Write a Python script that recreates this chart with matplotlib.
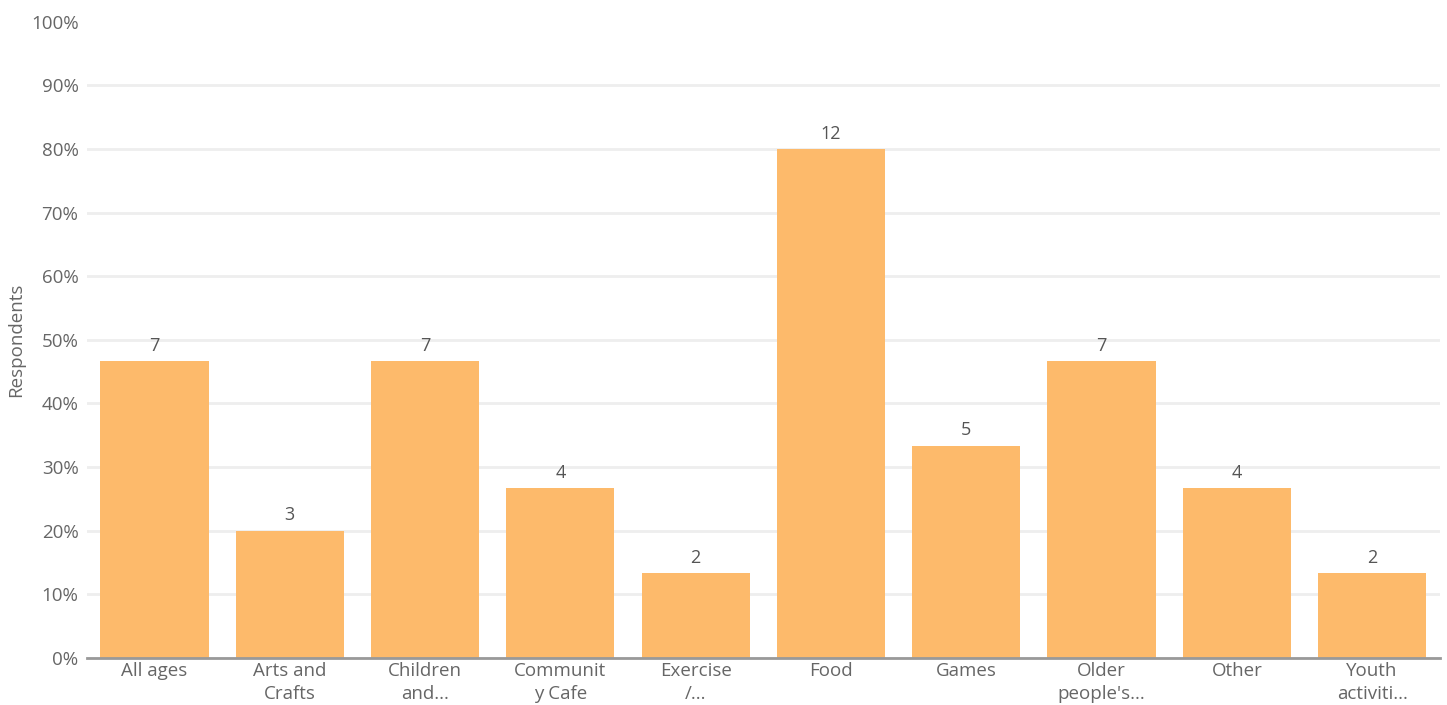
import numpy as np
import matplotlib as mpl
from matplotlib import pyplot as plt
from matplotlib.ticker import PercentFormatter

categories = ["All ages", "Arts and\nCrafts", "Children\nand...", "Communit\ny Cafe",
              "Exercise\n/...", "Food", "Games", "Older\npeople's...", "Other",
              "Youth\nactiviti..."]
counts = [7, 3, 7, 4, 2, 12, 5, 7, 4, 2]
total_respondents = 15

def main():
    plt.rcParams["font.family"] = ["Open Sans", "DejaVu Sans"]
    grey = "#666666"
    pct = np.array(counts) / total_respondents * 100.0
    x = np.arange(len(categories))

    fig = plt.figure(figsize=(14.47, 7.05), dpi=100)
    ax = fig.add_axes([0.060, 0.067, 0.935, 0.902])

    bars = ax.bar(x, pct, width=0.8, color="#fdba6b", zorder=2)
    for b, c in zip(bars, counts):
        ax.text(b.get_x() + b.get_width()/2, b.get_height() + 1.0, str(c),
                ha="center", va="bottom", fontsize=13, color="#555555")

    ax.set_xlim(-0.5, len(categories) - 0.5)
    ax.set_ylim(0, 100)
    ax.set_yticks(np.arange(0, 101, 10))
    ax.yaxis.set_major_formatter(PercentFormatter(decimals=0))
    ax.set_xticks(x)
    ax.set_xticklabels(categories, fontsize=13.5, color=grey, linespacing=1.35)
    ax.tick_params(axis="y", labelsize=13.5, labelcolor=grey, length=0, pad=6)
    ax.tick_params(axis="x", length=0, pad=3)
    ax.set_ylabel("Respondents", fontsize=13.5, color=grey, labelpad=4)

    ax.grid(axis="y", color="#eeeeee", lw=2, zorder=0)
    ax.get_ygridlines()[-1].set_visible(False)
    for s in ["top", "right", "left"]:
        ax.spines[s].set_visible(False)
    ax.spines["bottom"].set_color("#999999")
    ax.spines["bottom"].set_linewidth(2)
    ax.spines["bottom"].set_zorder(3)

    fig.savefig("out.png", dpi=100)

if __name__ == "__main__":
    main()
